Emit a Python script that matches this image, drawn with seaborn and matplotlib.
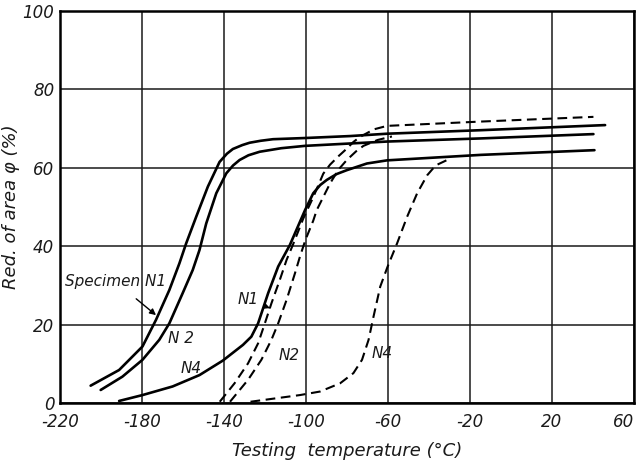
import matplotlib
matplotlib.use("Agg")
import matplotlib.pyplot as plt
import seaborn as sns
import pandas as pd

# Solid curves (temperature °C, reduction of area %)
n1_solid_t = [-205, -191.1, -179.7, -173.1, -166.6, -161.7, -158.4, -153.5, -147.8, -142.1,
              -138.5, -135.6, -131, -127.4, -122, -116, -100.4, -78.4, -60.4, -14.6, 46]
n1_solid_v = [4.4, 8.4, 14.4, 21.2, 28.8, 35.6, 40.7, 47.5, 55.2, 61.5,
              63.6, 64.8, 65.8, 66.4, 66.9, 67.3, 67.6, 68.1, 68.7, 69.6, 70.9]

n2_solid_t = [-200.1, -189.5, -179.7, -171.5, -166.6, -160.1, -155.2, -151.9, -148.6, -143.7,
              -138.8, -135.5, -132.3, -128, -122.5, -112, -100.4, -60.4, -14.6, 40.3]
n2_solid_v = [3.3, 6.7, 11, 16.1, 20.3, 28, 33.9, 39, 45.8, 53.5,
              58.6, 60.6, 62, 63.2, 64.1, 65.0, 65.6, 66.7, 67.5, 68.6]

n4_solid_t = [-191.1, -179.7, -165, -151.9, -140.5, -130.7, -126.6, -123.3, -118.4, -113.5, -107.8,
              -100.4, -96.4, -93, -89.8, -85, -80, -70.2, -60.4, -14.6, 40.8]
n4_solid_v = [0.5, 2, 4.2, 7.1, 10.8, 14.8, 16.9, 20.3, 28, 34.8, 40.3,
              49.2, 53.5, 55.6, 56.9, 58.4, 59.4, 61.1, 61.9, 63.3, 64.5]

# Dashed curves
n1_dash_t = [-142, -134.8, -128.2, -123.3, -120, -116.8, -112.7, -109.4, -106.2, -101.3,
             -96.4, -91.5, -88.2, -84, -80, -76.8, -73.5, -66.9, -60.4, -14.6, 40.3]
n1_dash_v = [0.3, 5, 10.1, 15.2, 20.3, 25.4, 31.4, 36.5, 40.5, 47,
             52.5, 58.5, 60.8, 63, 64.9, 66.6, 67.9, 69.8, 70.7, 71.8, 73]

n2_dash_t = [-137, -128.2, -121.7, -116.8, -113.5, -109.4, -105.3, -102.9, -100.2, -96.4,
             -94.7, -88.2, -84, -80, -75.5, -71.9, -65, -58]
n2_dash_v = [0.3, 5.9, 11, 16.1, 20.3, 26.3, 33.1, 37.3, 41.6, 46.5,
             49.2, 56, 59.6, 62, 64.2, 65.6, 67.1, 68]

n4_dash_t = [-127, -102.9, -93.1, -83.3, -76.8, -72.6, -69.4, -67, -63.7, -60.1,
             -55.5, -50.6, -45.7, -40.8, -38, -35.9, -29.4]
n4_dash_v = [0.3, 2, 2.9, 5, 7.6, 11, 16.1, 22, 29.7, 34.8,
             40.7, 47.5, 53.5, 58.1, 59.8, 60.8, 62.4]

x_ticks = [-220, -180, -140, -100, -60, -20, 20, 60]
y_ticks = [0, 20, 40, 60, 80, 100]

sns.set_theme(style="white")
plt.rcParams['font.family'] = ['DejaVu Sans']
plt.rcParams['lines.scale_dashes'] = False

fig = plt.figure(figsize=(6.37, 4.61), dpi=100)
ax = fig.add_axes([0.094, 0.126, 0.901, 0.85])

curves = [
    (n1_solid_t, n1_solid_v, False),
    (n2_solid_t, n2_solid_v, False),
    (n4_solid_t, n4_solid_v, False),
    (n1_dash_t, n1_dash_v, True),
    (n2_dash_t, n2_dash_v, True),
    (n4_dash_t, n4_dash_v, True),
]
for t, v, dashed in curves:
    df = pd.DataFrame({"t": t, "v": v})
    sns.lineplot(data=df, x="t", y="v", ax=ax, color="black",
                 lw=1.5 if dashed else 1.9, sort=False, estimator=None)
    ln = ax.lines[-1]
    ln.set_solid_capstyle("round")
    ln.set_solid_joinstyle("round")
    if dashed:
        ln.set_dashes([7, 4])

ax.set_xlim(-220, 60)
ax.set_ylim(0, 100)
ax.set_xticks(x_ticks)
ax.set_yticks(y_ticks)
ax.set_xticklabels([str(x) for x in x_ticks], fontsize=12, style='italic')
ax.set_yticklabels([str(y) for y in y_ticks], fontsize=12, style='italic')
ax.get_xticklabels()[-1].set_ha('right')
ax.tick_params(axis='x', length=0, pad=7, colors="#1a1a1a")
ax.tick_params(axis='y', length=0, pad=4, colors="#1a1a1a")
ax.grid(True, color="#1a1a1a", lw=1.1)
for s in ax.spines.values():
    s.set_color("black")
    s.set_linewidth(1.8)
ax.set_xlabel("Testing  temperature (°C)", fontsize=13, style='italic', labelpad=8, color="#1a1a1a")
ax.set_ylabel("Red. of area φ (%)", fontsize=13, style='italic', labelpad=2, color="#1a1a1a")

lab = dict(fontsize=11, style='italic', ha="center", va="center", color="#1a1a1a")
ax.annotate("Specimen N1", xy=(-173.1, 22.4), xytext=(-192.8, 30.9), **lab,
            arrowprops=dict(arrowstyle="-|>", color="black", lw=1.0, shrinkA=7, shrinkB=0,
                            mutation_scale=9))
ax.text(-160.9, 16.5, "N 2", **lab)
ax.text(-156, 8.9, "N4", **lab)
ax.annotate("N1", xy=(-117.5, 24.2), xytext=(-128.3, 26.3), **lab,
            arrowprops=dict(arrowstyle="-|>", color="black", lw=1.0, shrinkA=6, shrinkB=0,
                            mutation_scale=8))
ax.text(-108, 12.2, "N2", **lab)
ax.text(-63, 12.7, "N4", **lab)

fig.savefig("out.png", dpi=100)
